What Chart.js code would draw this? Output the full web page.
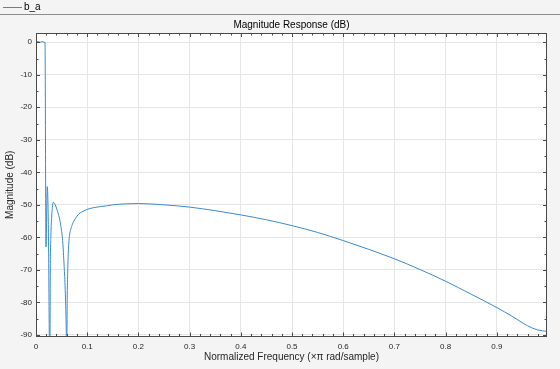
<!DOCTYPE html>
<html>
<head>
<meta charset="utf-8">
<script src="https://cdn.jsdelivr.net/npm/chart.js@4.4.0/dist/chart.umd.min.js"></script>
<style>
  html, body { margin: 0; padding: 0; width: 560px; height: 369px; overflow: hidden; background: #f4f4f4;
    font-family: "Liberation Sans", Arial, sans-serif; }
  #strip { position: absolute; left: 0; top: 0; width: 560px; height: 14px; border-bottom: 1px solid #8c8c8c; z-index: 2; }
  #strip .line { position: absolute; left: 3px; top: 7px; width: 19px; height: 1px; background: #3a8bd0; }
  #strip .name { position: absolute; left: 24px; top: 1px; font-size: 10px; line-height: 12px; color: #000; }
  #wrap { position: absolute; left: 0; top: 0; width: 560px; height: 369px; }
</style>
</head>
<body>
<div id="strip"><span class="line"></span><span class="name">b_a</span></div>
<div id="wrap"><canvas id="magChart" width="560" height="369"></canvas></div>
<script>
// normalized frequency (x pi rad/sample) and magnitude in dB
const freq = [0, 0.004, 0.008, 0.012, 0.016, 0.0176, 0.0195, 0.022, 0.024, 0.027,
  0.028, 0.029, 0.030, 0.031, 0.032, 0.033, 0.034, 0.035, 0.037, 0.040, 0.043, 0.046, 0.049, 0.052, 0.055, 0.057, 0.059, 0.060,
  0.061, 0.062, 0.063, 0.065, 0.068, 0.071, 0.074, 0.080, 0.086, 0.092, 0.100, 0.115, 0.138, 0.15, 0.175,
  0.2, 0.25, 0.3, 0.35, 0.4, 0.45, 0.5, 0.55, 0.6, 0.65, 0.7, 0.75, 0.8, 0.85, 0.9, 0.93, 0.96, 0.98, 0.998];
const magDb = [0, 0.2, 0, 0.2, 0, 0, -63, -44.4, -55, -100,
  -68, -60, -55.5, -52.5, -50.8, -49.6, -49.2, -49.3, -49.8, -51, -52.5, -54.3, -57, -61, -69, -76, -88, -100,
  -78, -70, -65, -60, -57.5, -56, -55, -53.5, -52.5, -52, -51.4, -50.8, -50.3, -50.0, -49.7,
  -49.6, -50.0, -50.7, -51.8, -53.1, -54.6, -56.4, -58.5, -61.0, -63.7, -66.6, -69.9, -73.5, -77.5, -81.6, -84.3, -87.2, -88.5, -88.9];

const xTicks = [0, 0.1, 0.2, 0.3, 0.4, 0.5, 0.6, 0.7, 0.8, 0.9];
const xTickLabels = ['0', '0.1', '0.2', '0.3', '0.4', '0.5', '0.6', '0.7', '0.8', '0.9'];
const yTicks = [0, -10, -20, -30, -40, -50, -60, -70, -80, -90];
const yTickLabels = ['0', '-10', '-20', '-30', '-40', '-50', '-60', '-70', '-80', '-90'];

const titleText = 'Magnitude Response (dB)';
const xLabel = 'Normalized Frequency (\u00d7\u03c0 rad/sample)';
const yLabel = 'Magnitude (dB)';

const FONT = '"Liberation Sans", Arial, sans-serif';
const TXT = '#262626';

// white plot area, axes box with inward ticks (major + minor) and the title
const axesBox = {
  id: 'axesBox',
  beforeDraw(chart) {
    const a = chart.chartArea, ctx = chart.ctx;
    ctx.save();
    ctx.fillStyle = '#fff';
    ctx.fillRect(a.left, a.top, a.right - a.left, a.bottom - a.top);
    ctx.restore();
  },
  afterDraw(chart) {
    const a = chart.chartArea, ctx = chart.ctx;
    const xs = chart.scales.x, ys = chart.scales.y;
    ctx.save();
    ctx.strokeStyle = '#4a4a4a';
    ctx.lineWidth = 1;
    ctx.strokeRect(Math.round(a.left) + 0.5, Math.round(a.top) + 0.5,
      Math.round(a.right - a.left) - 1, Math.round(a.bottom - a.top) - 1);
    ctx.beginPath();
    for (let v = 0; v <= xs.max + 1e-9; v += 0.02) {
      const px = Math.round(xs.getPixelForValue(v)) + 0.5;
      const major = Math.abs(v * 10 - Math.round(v * 10)) < 1e-6;
      const len = major ? 4 : 2.5;
      ctx.moveTo(px, a.bottom); ctx.lineTo(px, a.bottom - len);
      ctx.moveTo(px, a.top); ctx.lineTo(px, a.top + len);
    }
    for (let v = -90; v <= 0; v += 5) {
      const py = Math.round(ys.getPixelForValue(v)) + 0.5;
      const len = v % 10 === 0 ? 4 : 2.5;
      ctx.moveTo(a.left, py); ctx.lineTo(a.left + len, py);
      ctx.moveTo(a.right, py); ctx.lineTo(a.right - len, py);
    }
    ctx.stroke();
    ctx.fillStyle = '#000';
    ctx.font = '10px ' + FONT;
    ctx.textAlign = 'center';
    ctx.textBaseline = 'middle';
    ctx.fillText(titleText, (a.left + a.right) / 2, 25);
    ctx.restore();
  }
};

new Chart(document.getElementById('magChart').getContext('2d'), {
  type: 'line',
  data: {
    datasets: [{
      data: freq.map((f, i) => ({ x: f, y: magDb[i] })),
      borderColor: '#3a8bd0',
      borderWidth: 1,
      pointRadius: 0,
      cubicInterpolationMode: 'monotone',
      fill: false
    }]
  },
  options: {
    responsive: false,
    animation: false,
    layout: { padding: { top: 33, right: 13, left: 0, bottom: 0 } },
    plugins: { legend: { display: false }, tooltip: { enabled: false } },
    scales: {
      x: {
        type: 'linear',
        min: 0,
        max: 0.998,
        afterBuildTicks: s => { s.ticks = xTicks.map(v => ({ value: v })); },
        afterFit: s => { s.height = 32.5; },
        ticks: {
          callback: v => xTickLabels[xTicks.indexOf(v)],
          font: { family: FONT, size: 8 },
          color: TXT,
          padding: 5,
          maxRotation: 0,
          autoSkip: false
        },
        grid: { color: '#e6e6e6', drawTicks: false },
        border: { display: false },
        title: { display: true, text: xLabel, color: TXT, font: { family: FONT, size: 10 }, padding: { top: 0, bottom: 5.5 } }
      },
      y: {
        min: -90.5,
        max: 2.85,
        afterBuildTicks: s => { s.ticks = yTicks.map(v => ({ value: v })); },
        afterFit: s => { s.width = 36; },
        ticks: {
          callback: v => yTickLabels[yTicks.indexOf(v)],
          font: { family: FONT, size: 8 },
          color: TXT,
          padding: 4,
          autoSkip: false
        },
        grid: { color: '#e6e6e6', drawTicks: false },
        border: { display: false },
        title: { display: true, text: yLabel, color: TXT, font: { family: FONT, size: 10 }, padding: { top: 4, bottom: 0 } }
      }
    }
  },
  plugins: [axesBox]
});
</script>
</body>
</html>
